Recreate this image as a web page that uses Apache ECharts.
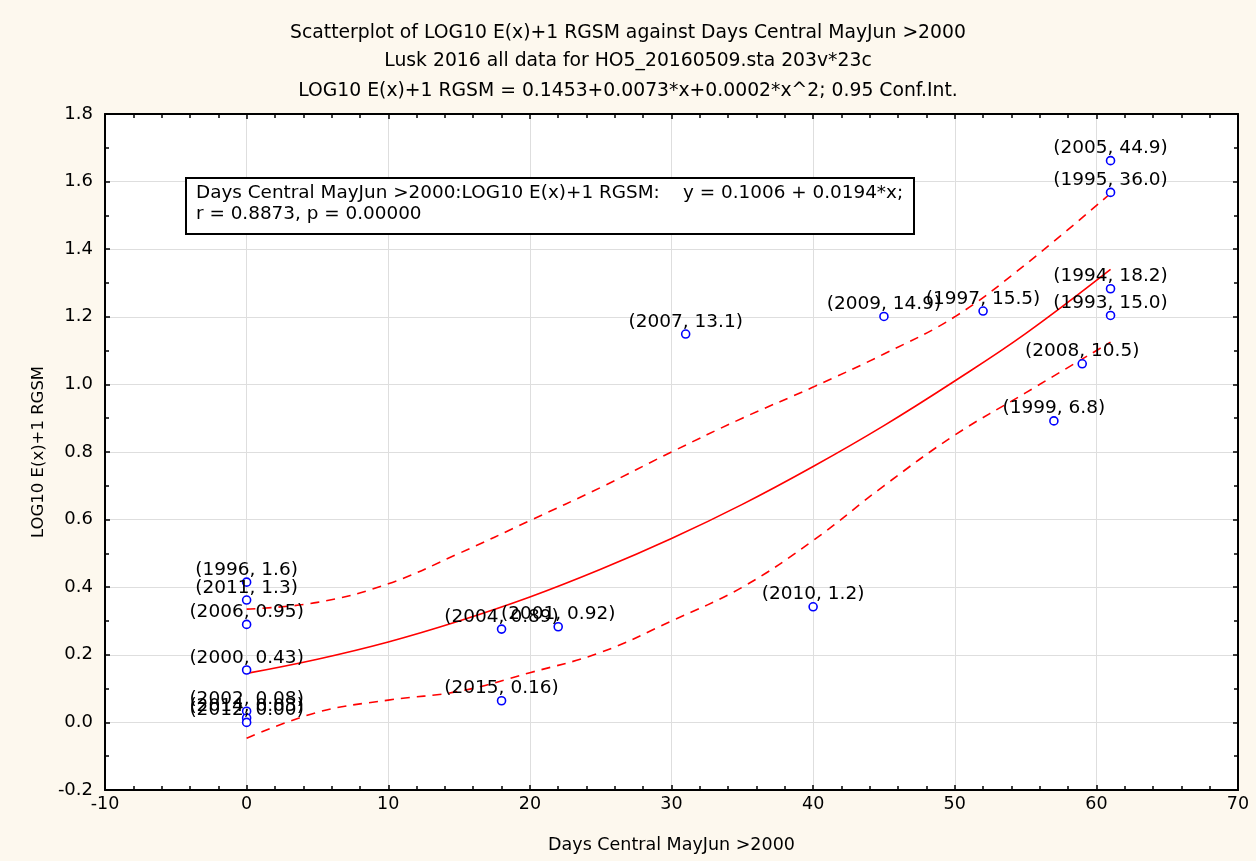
<!DOCTYPE html>
<html>
<head>
<meta charset="utf-8">
<script src="https://cdn.jsdelivr.net/npm/echarts@6/dist/echarts.min.js"></script>
<style>html,body{margin:0;padding:0;background:#fff;}#c{width:1256px;height:861px;}</style>
</head>
<body>
<div id="c"></div>
<script>
// ---- data ----
var titleLines = [
  'Scatterplot of LOG10 E(x)+1 RGSM against Days Central MayJun >2000',
  'Lusk 2016 all data for HO5_20160509.sta 203v*23c',
  'LOG10 E(x)+1 RGSM = 0.1453+0.0073*x+0.0002*x^2; 0.95 Conf.Int.'
];
var xName = 'Days Central MayJun >2000';
var yName = 'LOG10 E(x)+1 RGSM';
var boxLines = [
  'Days Central MayJun >2000:LOG10 E(x)+1 RGSM:    y = 0.1006 + 0.0194*x;',
  'r = 0.8873, p = 0.00000'
];
// points: days, log10(E+1), label
var pointX = [61, 61, 61, 61, 59, 57, 52, 45, 31, 40, 18, 22, 18, 0, 0, 0, 0, 0, 0, 0];
var pointY = [1.662, 1.568, 1.283, 1.204, 1.061, 0.892, 1.217, 1.201, 1.149, 0.342, 0.276, 0.283, 0.064, 0.415, 0.362, 0.290, 0.155, 0.033, 0.013, 0.000];
var pointLabels = ['(2005, 44.9)', '(1995, 36.0)', '(1994, 18.2)', '(1993, 15.0)', '(2008, 10.5)', '(1999, 6.8)', '(1997, 15.5)', '(2009, 14.9)', '(2007, 13.1)', '(2010, 1.2)', '(2004, 0.89)', '(2001, 0.92)', '(2015, 0.16)', '(1996, 1.6)', '(2011, 1.3)', '(2006, 0.95)', '(2000, 0.43)', '(2002, 0.08)', '(2014, 0.03)', '(2012, 0.00)'];
// fitted curve and 0.95 confidence band
var curveX = [0, 5, 10, 15, 20, 25, 30, 35, 40, 45, 50, 55, 61];
var fitY   = [0.145, 0.187, 0.238, 0.300, 0.371, 0.453, 0.544, 0.645, 0.757, 0.878, 1.010, 1.150, 1.340];
var upperY = [0.335, 0.355, 0.410, 0.500, 0.597, 0.695, 0.800, 0.900, 0.992, 1.090, 1.200, 1.355, 1.565];
var lowerY = [-0.047, 0.030, 0.066, 0.092, 0.147, 0.207, 0.300, 0.400, 0.538, 0.700, 0.850, 0.975, 1.125];
var xMin = -10, xMax = 70, xStep = 10;
var yMin = -0.2, yMax = 1.8, yStep = 0.2;

function pairs(xs, ys) { return xs.map(function (x, i) { return [x, ys[i]]; }); }
var pts = pointX.map(function (x, i) { return [x, pointY[i], pointLabels[i]]; });

var FONT = 'DejaVu Sans, Verdana, sans-serif';
var chart = echarts.init(document.getElementById('c'));
var axisBase = {
  axisLine: { show: true, onZero: false, lineStyle: { color: '#000', width: 2 } },
  axisTick: { show: true, inside: true, length: 5, lineStyle: { color: '#000', width: 1.5 } }
};
function ax(extra) { return Object.assign(JSON.parse(JSON.stringify(axisBase)), extra); }
var tStyle = { fontFamily: FONT, fontSize: 18.8, fontWeight: 'normal', color: '#000' };

chart.setOption({
  backgroundColor: '#fdf8ee',
  animation: false,
  title: [
    { text: titleLines[0], left: 'center', top: 19, textStyle: tStyle },
    { text: titleLines[1], left: 'center', top: 47, textStyle: tStyle },
    { text: titleLines[2], left: 'center', top: 77, textStyle: tStyle }
  ],
  grid: { left: 105, right: 18, top: 114, bottom: 71, show: true, backgroundColor: '#fff', borderWidth: 0 },
  xAxis: [
    ax({ type: 'value', min: xMin, max: xMax, interval: xStep, position: 'bottom',
      name: xName, nameLocation: 'middle', nameGap: 46,
      nameTextStyle: { fontFamily: FONT, fontSize: 17.5, color: '#000' },
      axisLabel: { fontFamily: FONT, fontSize: 17.5, color: '#000', margin: 5 },
      minorTick: { show: true, splitNumber: 5, length: 4, lineStyle: { color: '#000', width: 1.5 } },
      splitLine: { show: true, lineStyle: { color: '#dedede', width: 1 } } }),
    ax({ type: 'value', min: xMin, max: xMax, interval: xStep, position: 'top',
      axisLabel: { show: false }, splitLine: { show: false },
      minorTick: { show: true, splitNumber: 5, length: 4, lineStyle: { color: '#000', width: 1.5 } } })
  ],
  yAxis: [
    ax({ type: 'value', min: yMin, max: yMax, interval: yStep, position: 'left',
      name: yName, nameLocation: 'middle', nameGap: 58, nameRotate: 90,
      nameTextStyle: { fontFamily: FONT, fontSize: 16.5, color: '#000' },
      axisLabel: { fontFamily: FONT, fontSize: 18, color: '#000', margin: 12, formatter: function (v) { return (Math.round(v * 10) / 10).toFixed(1); } },
      minorTick: { show: true, splitNumber: 2, length: 4, lineStyle: { color: '#000', width: 1.5 } },
      splitLine: { show: true, lineStyle: { color: '#dedede', width: 1 } } }),
    ax({ type: 'value', min: yMin, max: yMax, interval: yStep, position: 'right',
      axisLabel: { show: false }, splitLine: { show: false },
      minorTick: { show: true, splitNumber: 2, length: 4, lineStyle: { color: '#000', width: 1.5 } } })
  ],
  series: [
    { type: 'line', data: pairs(curveX, fitY), smooth: 0.4, symbol: 'none', lineStyle: { color: '#ff0000', width: 1.6 }, z: 3 },
    { type: 'line', data: pairs(curveX, upperY), smooth: 0.4, symbol: 'none', lineStyle: { color: '#ff0000', width: 1.6, type: [9, 7] }, z: 3 },
    { type: 'line', data: pairs(curveX, lowerY), smooth: 0.4, symbol: 'none', lineStyle: { color: '#ff0000', width: 1.6, type: [9, 7] }, z: 3 },
    { type: 'scatter', data: pts, symbol: 'circle', symbolSize: 8, z: 4,
      itemStyle: { color: '#fff', borderColor: '#0000ff', borderWidth: 1.6, opacity: 1 },
      label: { show: true, position: 'top', distance: -2, fontFamily: FONT, fontSize: 18.5, color: '#000',
        formatter: function (p) { return p.data[2]; } },
      labelLayout: { hideOverlap: false } }
  ],
  graphic: [
    { type: 'rect', left: 185, top: 177, shape: { width: 728, height: 56 }, z: 50,
      style: { fill: '#fff', stroke: '#000', lineWidth: 2 } },
    { type: 'text', left: 196, top: 184, z: 51,
      style: { text: boxLines[0], font: '18.4px ' + FONT, fill: '#000' } },
    { type: 'text', left: 196, top: 205, z: 51,
      style: { text: boxLines[1], font: '18.4px ' + FONT, fill: '#000' } }
  ]
});
</script>
</body>
</html>
